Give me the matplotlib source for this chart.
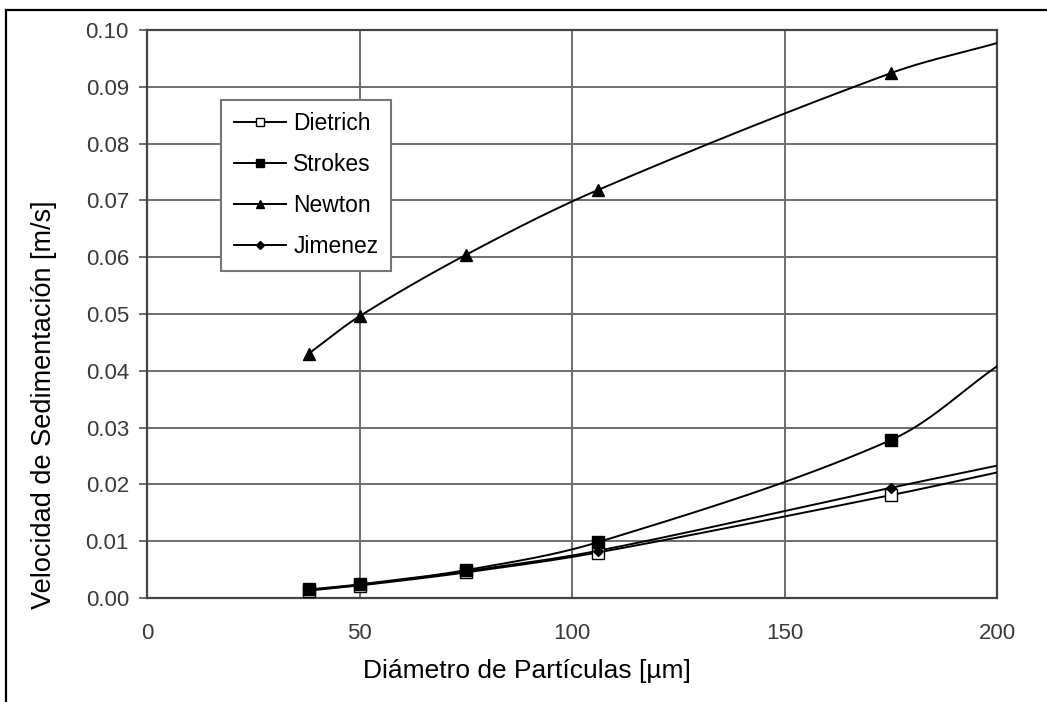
import numpy as np
import matplotlib.pyplot as plt
from matplotlib.lines import Line2D

plt.rcParams['font.family'] = ['Liberation Sans', 'DejaVu Sans']

# diametros (um) - el ultimo punto (200) no lleva marcador
diametro = [38, 50, 75, 106, 175, 200]
dietrich = [0.0013, 0.0022, 0.0045, 0.0080, 0.0181, 0.0221]
strokes = [0.0015, 0.0024, 0.0049, 0.0098, 0.0278, 0.0408]
newton = [0.0430, 0.0496, 0.0604, 0.0718, 0.0924, 0.0977]
jimenez = [0.0014, 0.0023, 0.0047, 0.0083, 0.0194, 0.0233]

series = [
    ('Dietrich', dietrich, dict(marker='s', mfc='white', mec='black', ms=8, mew=1)),
    ('Strokes', strokes, dict(marker='s', mfc='black', mec='black', ms=8.5)),
    ('Newton', newton, dict(marker='^', mfc='black', mec='black', ms=8)),
    ('Jimenez', jimenez, dict(marker='D', mfc='black', mec='black', ms=5)),
]

# escala en pixeles (para suavizar como excel)
SX, SY = 850 / 200, 568 / 0.10


def suavizar(x, y, n=40, f=1 / 3):
    # bezier con tangentes ponderadas por la longitud de los tramos
    p = np.column_stack([np.array(x) * SX, np.array(y) * SY]).astype(float)
    m = len(p)
    d = np.linalg.norm(np.diff(p, axis=0), axis=1)
    xs, ys = [], []
    t = np.linspace(0, 1, n)
    for i in range(m - 1):
        p0, p1 = p[i], p[i + 1]
        if i == 0:
            c1 = p0 + (p1 - p0) * f
        else:
            tg = p[i + 1] - p[i - 1]
            c1 = p0 + tg * f * d[i] / (d[i - 1] + d[i])
        if i == m - 2:
            c2 = p1 - (p1 - p0) * f
        else:
            tg = p[i + 2] - p[i]
            c2 = p1 - tg * f * d[i] / (d[i] + d[i + 1])
        b = ((1 - t) ** 3)[:, None] * p0 + (3 * (1 - t) ** 2 * t)[:, None] * c1 \
            + (3 * (1 - t) * t ** 2)[:, None] * c2 + (t ** 3)[:, None] * p1
        xs.extend(b[:, 0] / SX)
        ys.extend(b[:, 1] / SY)
    return xs, ys


fig = plt.figure(figsize=(10.47, 7.02), dpi=100)
ax = fig.add_axes([147 / 1047, 1 - 598 / 702, 850 / 1047, 568 / 702])

for nombre, vals, estilo in series:
    xs, ys = suavizar(diametro, vals)
    ax.plot(xs, ys, color='black', lw=1.4, zorder=3)
    ax.plot(diametro[:-1], vals[:-1], ls='none', zorder=4, clip_on=False, **estilo)

ax.set_xlim(0, 200)
ax.set_ylim(0, 0.10)
ax.set_xticks([0, 50, 100, 150, 200])
ax.set_yticks(np.arange(0, 0.101, 0.01))
ax.yaxis.set_major_formatter(plt.FormatStrFormatter('%.2f'))
ax.grid(True, color='#6e6e6e', lw=1.4)
ax.set_axisbelow(True)
for s in ax.spines.values():
    s.set_color('#444444')
    s.set_linewidth(1.6)
ax.tick_params(axis='y', length=6, width=1.2, color='#555555', labelsize=16,
               labelcolor='#3a3a3a', pad=7)
ax.tick_params(axis='x', length=0, labelsize=16, labelcolor='#3a3a3a', pad=18)

ax.set_xlabel('Diámetro de Partículas [µm]', fontsize=19)
ax.set_ylabel('Velocidad de Sedimentación [m/s]', fontsize=19.5)
ax.xaxis.set_label_coords(0.447, -0.108)
ax.yaxis.set_label_coords(-0.106, 0.34)

handles = [Line2D([], [], color='black', lw=1.4, **e) for _, _, e in series]
leg = ax.legend(handles, [s[0] for s in series], loc='upper left',
                bbox_to_anchor=(0.087, 0.877), fontsize=16.5, frameon=True,
                fancybox=False, shadow=False, handlelength=2.3, markerscale=0.75,
                labelspacing=0.78, borderpad=0.55, handletextpad=0.3,
                borderaxespad=0, edgecolor='#777777', framealpha=1)
leg.get_frame().set_linewidth(1.5)

# marco de la figura
fig.add_artist(Line2D([6 / 1047, 6 / 1047], [0, 1 - 10 / 702], color='black', lw=1.6))
fig.add_artist(Line2D([6 / 1047, 1], [1 - 10 / 702, 1 - 10 / 702], color='black', lw=1.6))

fig.savefig('out.png', dpi=100)
